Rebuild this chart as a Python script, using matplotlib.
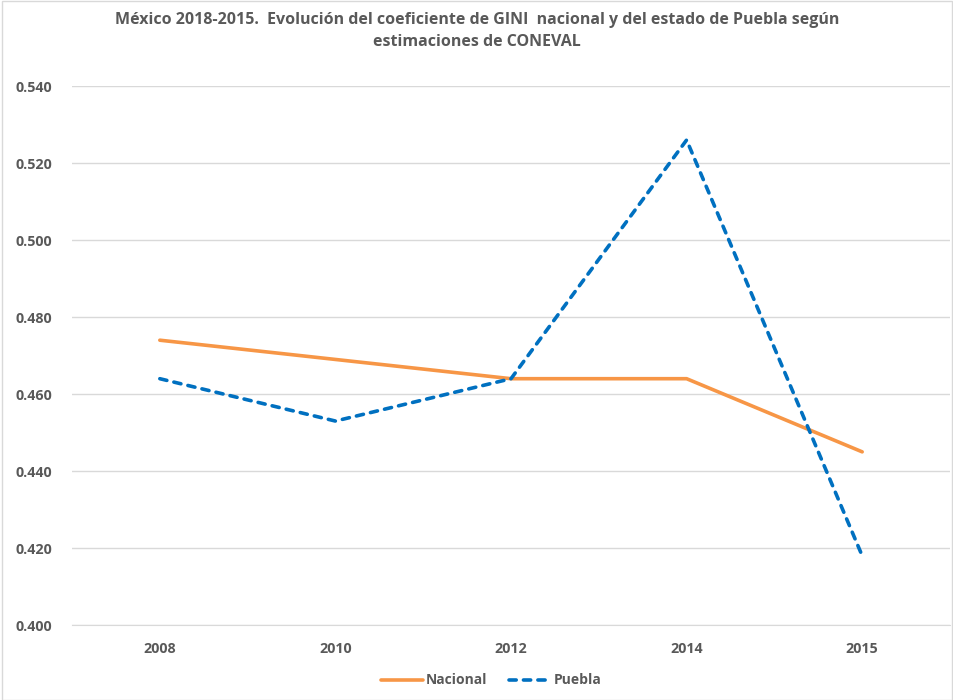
import matplotlib.pyplot as plt
from matplotlib.patches import Rectangle

years = ["2008", "2010", "2012", "2014", "2015"]
nacional = [0.474, 0.469, 0.464, 0.464, 0.445]
puebla = [0.464, 0.453, 0.464, 0.526, 0.418]
y_ticks = [0.400, 0.420, 0.440, 0.460, 0.480, 0.500, 0.520, 0.540]

plt.rcParams['font.family'] = ['Open Sans', 'DejaVu Sans']
grey = "#595959"

fig = plt.figure(figsize=(9.54, 7.0), dpi=100)
ax = fig.add_axes([0.0755, 0.107, 0.9203, 0.770])

x = list(range(len(years)))
ax.plot(x, nacional, color="#F79646", linewidth=2.6, solid_capstyle="round", label="Nacional")
ax.plot(x, puebla, color="#0070C0", linewidth=2.6, dashes=(2.0, 2.0),
        dash_capstyle="round", label="Puebla")

ax.set_xlim(-0.5, len(years) - 0.5)
ax.set_ylim(0.400, 0.540)
ax.set_yticks(y_ticks)
ax.set_yticklabels(["%.3f" % v for v in y_ticks])
ax.set_xticks(x)
ax.set_xticklabels(years)
ax.grid(axis="y", color="#D9D9D9", linewidth=1.0)
ax.set_axisbelow(True)
for s in ["top", "right", "left"]:
    ax.spines[s].set_visible(False)
ax.spines["bottom"].set_color("#D9D9D9")
ax.tick_params(length=0, labelcolor=grey, labelsize=10.3, pad=12)
for lbl in ax.get_xticklabels() + ax.get_yticklabels():
    lbl.set_fontweight("bold")
ax.tick_params(axis="y", pad=14)

fig.text(0.5, 0.955, "México 2018-2015.  Evolución del coeficiente de GINI  nacional y del estado de Puebla según\nestimaciones de CONEVAL",
         ha="center", va="center", fontsize=11.5, fontweight="bold", color=grey, linespacing=1.5)

leg = fig.legend(loc="center", bbox_to_anchor=(0.515, 0.028), ncol=2, frameon=False,
                 fontsize=10, handlelength=3.0, handletextpad=0.2, columnspacing=1.6)
for t in leg.get_texts():
    t.set_color(grey)
    t.set_fontweight("bold")

fig.patches.append(Rectangle((0.002, 0.0), 0.996, 0.998, transform=fig.transFigure,
                             fill=False, edgecolor="#D9D9D9", linewidth=1.0))

fig.savefig("out.png", dpi=100)
